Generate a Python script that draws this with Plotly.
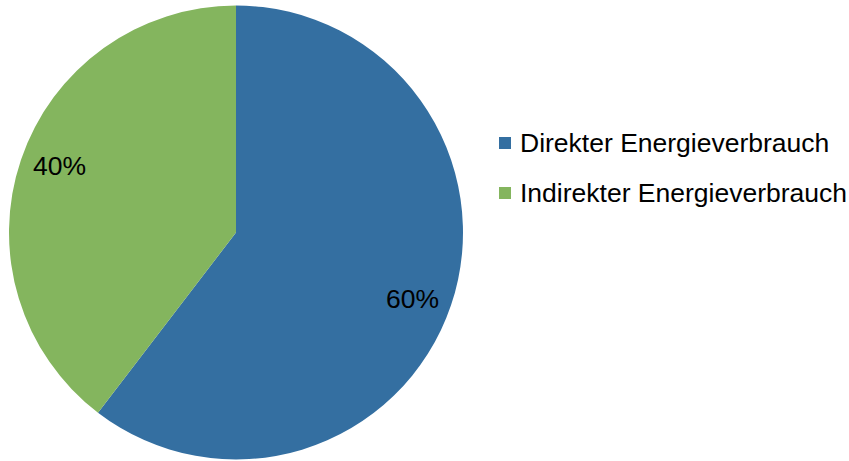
import math
import plotly.graph_objects as go

labels = ["Direkter Energieverbrauch", "Indirekter Energieverbrauch"]
values = [60.4, 39.6]
colors = ["#346FA1", "#84B55E"]

W, H = 849, 461
cx, cy, r = 236, 232.5, 227

fig = go.Figure(go.Pie(
    labels=labels, values=values, sort=False, direction="clockwise", rotation=0,
    marker=dict(colors=colors, line=dict(width=0)),
    textinfo="none", hoverinfo="label+percent", showlegend=False,
    domain=dict(x=[(cx - r) / W, (cx + r) / W], y=[max(0, 1 - (cy + r) / H), min(1, 1 - (cy - r) / H)]),
))

total = sum(values)
start = 0.0
font = dict(family="Liberation Sans, Arial, sans-serif", size=26.5, color="#000000")
for i, v in enumerate(values):
    mid = start + v / total * 360 / 2
    start += v / total * 360
    a = math.radians(mid + 2)
    px = cx + 0.83 * r * math.sin(a)
    py = cy - 0.83 * r * math.cos(a)
    fig.add_annotation(x=px / W, y=1 - py / H, xref="paper", yref="paper",
                       xanchor="center", yanchor="middle",
                       text=f"{round(v / total * 100)}%", showarrow=False, font=font)

# legend
for i, lab in enumerate(labels):
    yc = 143 + i * 50
    fig.add_shape(type="rect", xref="paper", yref="paper",
                  x0=499 / W, x1=511 / W, y0=1 - (yc - 6) / H, y1=1 - (yc + 6) / H,
                  fillcolor=colors[i], line=dict(width=0))
    fig.add_annotation(x=518 / W, y=1 - yc / H, xref="paper", yref="paper",
                       text=lab, showarrow=False, xanchor="left", yanchor="middle", font=font)

fig.update_layout(width=W, height=H, margin=dict(l=0, r=0, t=0, b=0),
                  paper_bgcolor="white", plot_bgcolor="white")
fig.write_html("out.html", config={"displayModeBar": False},
               post_script="document.body.style.margin='0';document.body.style.overflow='hidden';")
